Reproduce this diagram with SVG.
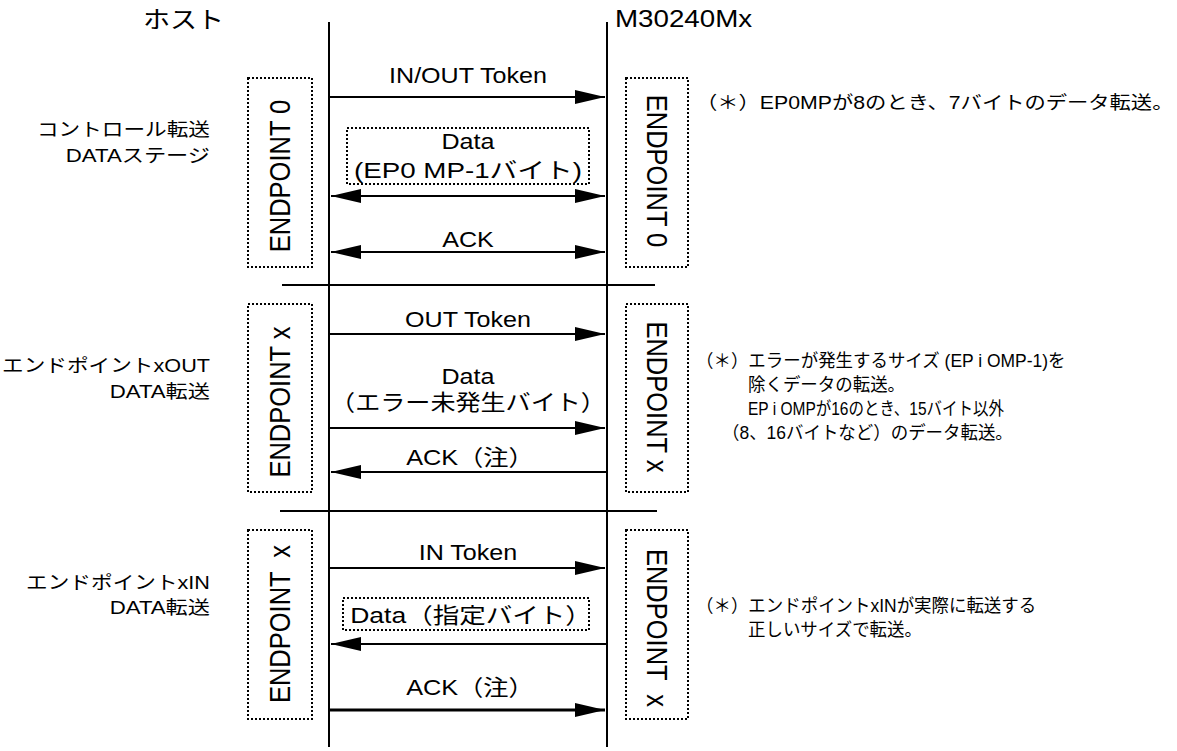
<svg xmlns="http://www.w3.org/2000/svg" width="1177" height="751" viewBox="0 0 1177 751">
  <style>
    text { font-family: "Liberation Sans", "Noto Sans CJK JP", sans-serif; fill: #000; }
    .title { font-size: 23.5px; }
    .lbl { font-size: 22px; text-anchor: middle; }
    .side { font-size: 18.5px; text-anchor: end; }
    .note1 { font-size: 18.2px; }
    .note { font-size: 18px; }
    .ep { font-size: 25.5px; text-anchor: middle; white-space: pre; }
    .life { stroke: #000; stroke-width: 2; fill: none; }
    .sep { stroke: #000; stroke-width: 2; fill: none; }
    .dot { stroke: #000; stroke-width: 2; stroke-dasharray: 2 2; fill: none; }
    .msg { stroke: #000; stroke-width: 2; fill: none; marker-end: url(#head); }
    .both { marker-start: url(#head); }
    .heavy { stroke-width: 3; }
  </style>
  <defs>
    <marker id="head" viewBox="0 0 30 14" refX="30" refY="7" markerWidth="30" markerHeight="14" markerUnits="userSpaceOnUse" orient="auto-start-reverse">
      <path d="M0,0 L30,7 L0,14 z" fill="#000"/>
    </marker>
  </defs>

  <!-- lifelines -->
  <g id="host">
    <line class="life" x1="329" y1="22" x2="329" y2="747"/>
    <text class="title" transform="translate(143 28) scale(1.15 1)">ホスト</text>
  </g>
  <g id="device">
    <line class="life" x1="607" y1="22" x2="607" y2="747"/>
    <text class="title" transform="translate(615 27) scale(1.18 1)">M30240Mx</text>
  </g>

  <!-- stage separators -->
  <g id="separators">
    <line class="sep" x1="282" y1="285" x2="655" y2="285"/>
    <line class="sep" x1="280" y1="511" x2="657" y2="511"/>
  </g>

  <!-- stage captions on the left -->
  <g id="stage-control">
    <text class="side" transform="translate(210 136) scale(1.17 1)">コントロール転送</text>
    <text class="side" transform="translate(210 162) scale(1.2 1)">DATAステージ</text>
  </g>
  <g id="stage-out">
    <text class="side" transform="translate(210 372) scale(1.17 1)">エンドポイントxOUT</text>
    <text class="side" transform="translate(210 398) scale(1.2 1)">DATA転送</text>
  </g>
  <g id="stage-in">
    <text class="side" transform="translate(210 589) scale(1.17 1)">エンドポイントxIN</text>
    <text class="side" transform="translate(210 614) scale(1.2 1)">DATA転送</text>
  </g>

  <!-- endpoint boxes -->
  <g id="ep0-host">
    <rect class="dot" x="248" y="78" width="64" height="189"/>
    <text class="ep" transform="translate(290 176) scale(1.17 1) rotate(-90)">ENDPOINT 0</text>
  </g>
  <g id="ep0-dev">
    <rect class="dot" x="626" y="78" width="62" height="189"/>
    <text class="ep" transform="translate(647 171) scale(1.17 1) rotate(90)">ENDPOINT 0</text>
  </g>
  <g id="epx-out-host">
    <rect class="dot" x="248" y="304" width="64" height="188"/>
    <text class="ep" transform="translate(290 402) scale(1.17 1) rotate(-90)">ENDPOINT x</text>
  </g>
  <g id="epx-out-dev">
    <rect class="dot" x="626" y="304" width="62" height="188"/>
    <text class="ep" transform="translate(647 397) scale(1.17 1) rotate(90)">ENDPOINT x</text>
  </g>
  <g id="epx-in-host">
    <rect class="dot" x="248" y="530" width="64" height="189"/>
    <text class="ep" transform="translate(290 624) scale(1.17 1) rotate(-90)">ENDPOINT  x</text>
  </g>
  <g id="epx-in-dev">
    <rect class="dot" x="626" y="530" width="62" height="189"/>
    <text class="ep" transform="translate(647 628) scale(1.17 1) rotate(90)">ENDPOINT  x</text>
  </g>

  <!-- packet frames -->
  <g id="data-ep0">
    <rect class="dot" x="347" y="128" width="242" height="56"/>
  </g>
  <g id="data-in">
    <rect class="dot" x="343" y="598" width="246" height="32"/>
  </g>

  <!-- transactions -->
  <g id="connectors">
    <line class="msg" x1="330" y1="97" x2="605" y2="97"/>
    <line class="msg both" x1="331" y1="196" x2="605" y2="196"/>
    <line class="msg both" x1="331" y1="252" x2="605" y2="252"/>

    <line class="msg" x1="330" y1="334" x2="605" y2="334"/>
    <line class="msg" x1="330" y1="428" x2="605" y2="428"/>
    <line class="msg" x1="606" y1="472" x2="331" y2="472"/>

    <line class="msg" x1="330" y1="568" x2="605" y2="568"/>
    <line class="msg" x1="606" y1="644" x2="331" y2="644"/>
    <line class="msg heavy" x1="330" y1="710" x2="605" y2="710"/>
  </g>

  <!-- transaction labels -->
  <g id="labels">
    <text class="lbl" transform="translate(468 83) scale(1.14 1)">IN/OUT Token</text>
    <text class="lbl" transform="translate(468 149) scale(1.14 1)">Data</text>
    <text class="lbl" transform="translate(468 178) scale(1.14 1)" textLength="200" lengthAdjust="spacingAndGlyphs">(EP0 MP-1バイト)</text>
    <text class="lbl" transform="translate(468 247) scale(1.14 1)">ACK</text>

    <text class="lbl" transform="translate(468 327) scale(1.14 1)">OUT Token</text>
    <text class="lbl" transform="translate(468 384) scale(1.14 1)">Data</text>
    <text class="lbl" transform="translate(468 410) scale(1.14 1)">（エラー未発生バイト）</text>
    <text class="lbl" transform="translate(470 465) scale(1.14 1)" textLength="112" lengthAdjust="spacingAndGlyphs">ACK（注）</text>

    <text class="lbl" transform="translate(468 560) scale(1.14 1)">IN Token</text>
    <text class="lbl" transform="translate(471 623) scale(1.14 1)" textLength="212" lengthAdjust="spacingAndGlyphs">Data（指定バイト）</text>
    <text class="lbl" transform="translate(470 695) scale(1.14 1)" textLength="112" lengthAdjust="spacingAndGlyphs">ACK（注）</text>
  </g>

  <!-- footnotes on the right -->
  <g id="note-control">
    <text class="note1" transform="translate(696 109) scale(1.17 1)">（＊）EP0MPが8のとき、7バイトのデータ転送。</text>
  </g>
  <g id="note-out">
    <text class="note" transform="translate(696 367) scale(0.97 1)">（＊）エラーが発生するサイズ (EP i OMP-1)を</text>
    <text class="note" transform="translate(748 391) scale(0.97 1)">除くデータの転送。</text>
    <text class="note" transform="translate(748 415) scale(0.97 1)" textLength="264" lengthAdjust="spacingAndGlyphs">EP i OMPが16のとき、15バイト以外</text>
    <text class="note" transform="translate(722 439) scale(0.97 1)">（8、16バイトなど）のデータ転送。</text>
  </g>
  <g id="note-in">
    <text class="note" transform="translate(696 612) scale(0.97 1)">（＊）エンドポイントxINが実際に転送する</text>
    <text class="note" transform="translate(748 636) scale(0.97 1)">正しいサイズで転送。</text>
  </g>
</svg>
